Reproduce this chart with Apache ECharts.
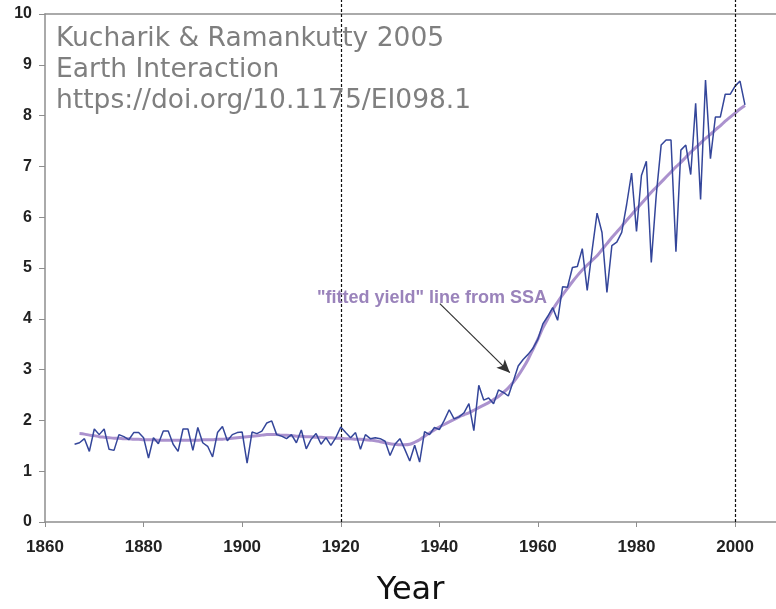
<!DOCTYPE html>
<html>
<head>
<meta charset="utf-8">
<script src="https://cdn.jsdelivr.net/npm/echarts@6/dist/echarts.min.js"></script>
<style>
html, body { margin: 0; padding: 0; background: #fff; }
#chart { width: 776px; height: 609px; }
</style>
</head>
<body>
<div id="chart"></div>
<script>
// 年产量 观测值 1866-2002
var obsStartYear = 1866;
var yieldObs = [
	1.53, 1.56, 1.64, 1.39, 1.83, 1.72, 1.83, 1.43, 1.41, 1.72,
	1.68, 1.62, 1.76, 1.76, 1.66, 1.26, 1.66, 1.54, 1.79, 1.79,
	1.53, 1.39, 1.83, 1.83, 1.41, 1.86, 1.56, 1.49, 1.28, 1.76,
	1.88, 1.60, 1.72, 1.76, 1.77, 1.16, 1.77, 1.74, 1.79, 1.95,
	1.99, 1.72, 1.69, 1.64, 1.72, 1.56, 1.81, 1.44, 1.63, 1.74,
	1.53, 1.66, 1.51, 1.66, 1.87, 1.76, 1.66, 1.76, 1.43, 1.72,
	1.64, 1.66, 1.64, 1.59, 1.31, 1.53, 1.64, 1.43, 1.20, 1.51,
	1.18, 1.78, 1.72, 1.86, 1.82, 2.00, 2.21, 2.03, 2.07, 2.15,
	2.33, 1.80, 2.69, 2.40, 2.44, 2.33, 2.60, 2.55, 2.48, 2.77,
	3.07, 3.20, 3.30, 3.42, 3.60, 3.90, 4.05, 4.22, 3.97, 4.63,
	4.62, 5.01, 5.03, 5.38, 4.56, 5.35, 6.08, 5.70, 4.52, 5.44,
	5.51, 5.70, 6.25, 6.87, 5.72, 6.82, 7.10, 5.11, 6.43, 7.42,
	7.52, 7.52, 5.32, 7.32, 7.42, 6.84, 8.24, 6.35, 8.70, 7.15,
	7.97, 7.97, 8.42, 8.42, 8.58, 8.68, 8.21
];

// SSA 拟合线 1867-2002
var fitStartYear = 1867;
var yieldFit = [
	1.74, 1.73, 1.71, 1.70, 1.68, 1.67, 1.66, 1.65, 1.65, 1.64,
	1.64, 1.63, 1.63, 1.62, 1.62, 1.62, 1.61, 1.61, 1.61, 1.61,
	1.61, 1.61, 1.61, 1.61, 1.61, 1.62, 1.62, 1.62, 1.63, 1.63,
	1.64, 1.65, 1.66, 1.67, 1.68, 1.69, 1.70, 1.71, 1.72, 1.72,
	1.72, 1.71, 1.71, 1.70, 1.69, 1.69, 1.68, 1.68, 1.67, 1.67,
	1.66, 1.66, 1.65, 1.65, 1.64, 1.64, 1.63, 1.63,
	1.62, 1.61, 1.60, 1.58, 1.56, 1.54, 1.53, 1.52, 1.52, 1.53,
	1.57, 1.62, 1.69, 1.75, 1.81, 1.87, 1.92, 1.97, 2.02, 2.07,
	2.11, 2.15, 2.20, 2.25, 2.30, 2.35, 2.41, 2.47, 2.55, 2.64,
	2.75, 2.88, 3.03, 3.20, 3.40, 3.60, 3.82, 4.00, 4.18, 4.33,
	4.47, 4.60, 4.73, 4.85, 4.96, 5.06, 5.15, 5.24, 5.36, 5.48,
	5.60, 5.71, 5.82, 5.94, 6.05, 6.16, 6.27, 6.38, 6.49, 6.59,
	6.69, 6.79, 6.89, 6.99, 7.08, 7.18, 7.28, 7.37, 7.46, 7.55,
	7.63, 7.72, 7.80, 7.89, 7.97, 8.05, 8.13, 8.20
];

// 虚线年份 与 箭头
var markYears = [1920, 2000];
var arrowFrom = [1940.1, 4.3];
var arrowTo = [1954.3, 2.94];

var obsData = yieldObs.map(function (v, i) { return [obsStartYear + i, v]; });
var fitData = yieldFit.map(function (v, i) { return [fitStartYear + i, v]; });

var axisColor = '#8e8e8e';
var labelStyle = { fontFamily: 'Liberation Sans', fontWeight: 'bold', color: '#222' };
var xMin = 1860, xMax = 2008.3;

var myChart = echarts.init(document.getElementById('chart'));
var option = {
	animation: false,
	title: [
		{
			text: 'Kucharik & Ramankutty 2005\nEarth Interaction\nhttps://doi.org/10.1175/EI098.1',
			left: 56,
			top: 24,
			padding: 0,
			textStyle: { fontFamily: 'DejaVu Sans', fontSize: 26.5, fontWeight: 'normal', color: '#7f7f7f', lineHeight: 31 }
		},
		{
			text: '"fitted yield" line from SSA',
			left: 317,
			top: 289,
			padding: 0,
			textStyle: { fontFamily: 'Liberation Sans', fontSize: 18, fontWeight: 'bold', color: '#9a83bb' }
		}
	],
	grid: [
		{ left: 45, right: 0, top: 14, bottom: 87, outerBoundsMode: 'none' },
		// 虚线用的全高网格
		{ left: 45, right: 0, top: 0, bottom: 87, outerBoundsMode: 'none' }
	],
	xAxis: [
		{
			type: 'value',
			min: xMin,
			max: xMax,
			interval: 20,
			name: 'Year',
			nameLocation: 'middle',
			nameGap: 53,
			nameTextStyle: { fontFamily: 'DejaVu Sans', fontSize: 32, color: '#111' },
			axisLine: { onZero: false, lineStyle: { color: axisColor, width: 1.5 } },
			axisTick: { length: 5, lineStyle: { color: axisColor } },
			axisLabel: Object.assign({
				fontSize: 17,
				margin: 17,
				showMaxLabel: false,
				formatter: function (v) { return String(v); }
			}, labelStyle),
			splitLine: { show: false }
		},
		{
			type: 'value',
			position: 'top',
			min: xMin,
			max: xMax,
			axisLine: { show: true, onZero: false, lineStyle: { color: axisColor, width: 1.5 } },
			axisTick: { show: false },
			axisLabel: { show: false },
			splitLine: { show: false }
		},
		{
			type: 'value',
			gridIndex: 1,
			min: xMin,
			max: xMax,
			show: false
		}
	],
	yAxis: [
		{
			type: 'value',
			min: 0,
			max: 10,
			interval: 1,
			axisLine: { show: true, onZero: false, lineStyle: { color: axisColor, width: 1.5 } },
			axisTick: { show: true, length: 6, lineStyle: { color: axisColor } },
			axisLabel: Object.assign({ fontSize: 16, margin: 13 }, labelStyle),
			splitLine: { show: false }
		},
		{
			type: 'value',
			gridIndex: 1,
			min: 0,
			max: 1,
			show: false
		}
	],
	series: [
		{
			name: 'fitted',
			type: 'line',
			data: fitData,
			showSymbol: false,
			smooth: 0.3,
			z: 2,
			lineStyle: { color: '#a68ccb', width: 3, opacity: 0.95 }
		},
		{
			name: 'observed',
			type: 'line',
			data: obsData,
			showSymbol: false,
			z: 3,
			lineStyle: { color: '#34469a', width: 1.5 },
			markLine: {
				silent: true,
				symbol: ['none', 'arrow'],
				symbolSize: [9, 13],
				label: { show: false },
				lineStyle: { type: 'solid', color: '#333', width: 1.2 },
				data: [[{ coord: arrowFrom }, { coord: arrowTo }]]
			}
		},
		{
			name: 'marks',
			type: 'line',
			xAxisIndex: 2,
			yAxisIndex: 1,
			data: [],
			z: 4,
			markLine: {
				silent: true,
				symbol: ['none', 'none'],
				label: { show: false },
				lineStyle: { type: [3, 2], color: '#111', width: 1.2 },
				data: markYears.map(function (y) { return { xAxis: y }; })
			}
		}
	]
};
myChart.setOption(option);
</script>
</body>
</html>
